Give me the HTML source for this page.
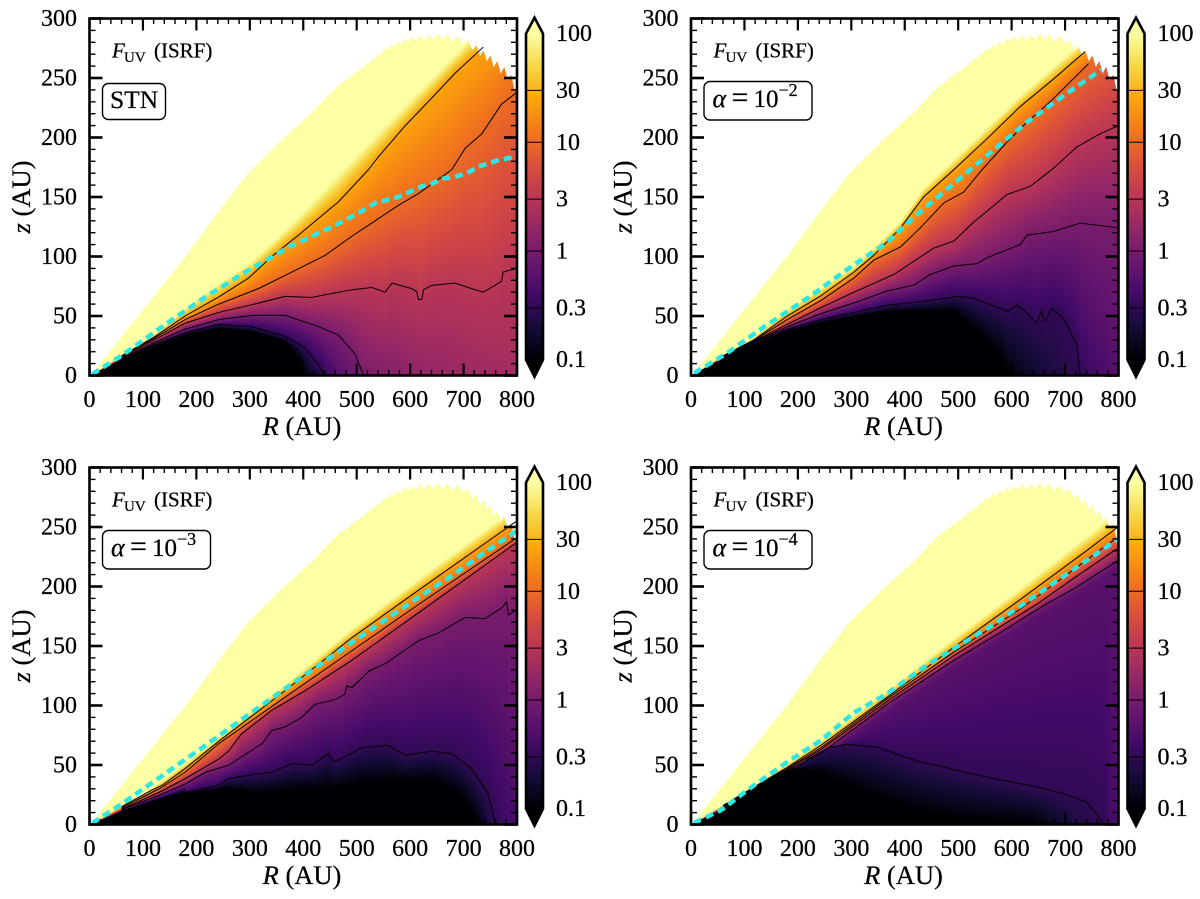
<!DOCTYPE html>
<html lang="en">
<head>
<meta charset="utf-8">
<title>FUV maps</title>
<style>
html,body{margin:0;padding:0;background:#fff}
#figure{position:relative;width:1200px;height:899px;overflow:hidden;background:#fff}
#figure canvas{position:absolute;display:block}
#overlay{position:absolute;left:0;top:0}
text{font-family:"Liberation Serif","DejaVu Serif",serif;fill:#000;stroke:#000;stroke-width:.25px}
</style>
</head>
<body>
<div id="figure">
<svg id="overlay" width="1200" height="899" viewBox="0 0 1200 899" xmlns="http://www.w3.org/2000/svg">
<defs><linearGradient id="cbarGradient" x1="0" y1="1" x2="0" y2="0"></linearGradient></defs>
</svg>
</div>
<script>
// ---------- axis tick data ----------
const xTickLabels = [0,100,200,300,400,500,600,700,800];
const yTickLabels = [0,50,100,150,200,250,300];
const colorbarTicks = [100,30,10,3,1,0.3,0.1];
const contourLevels = [30,10,3,1,0.3];

// ---------- outer surface of the model [R,z] ----------
const envelope = [[0,0],[55,31],[183,103],[240,138],[295,170],[357,198],[418,223],[460,243],[507,259],[553,276],[592,284.4],[615,286],[637,287],[659,288],[699,285],[721,279],[743,272],[768,263],[783,257],[800,246]];

// ---------- STN ----------
const stnC100 = [[120,35],[179,57],[242,78],[298,95],[341,112],[391,134],[466,170],[522,196],[591,228],[640,250],[684,270],[737,295]];
const stnC50 = [[120,33],[179,52],[242,69],[298,86],[341,103],[391,122],[466,152],[522,180],[591,214],[640,238],[684,259],[740,282]];
const stnC30 = [[60,16.5],[120,32],[179,50],[242,66],[298,82],[341,100],[391,118],[466,146],[522,173],[541,184],[591,210],[640,233],[684,254],[737,276]];
const stnC10 = [[60,16],[120,31],[179,47],[242,60],[316,73],[379,87],[441,101],[491,117],[528,128],[578,143],[616,153],[678,173],[703,191],[734,203],[771,228],[800,238]];
const stnC3 = [[60,15],[117,29],[179,44],[242,53],[304,59.5],[366,66.5],[416,65.6],[454,69],[491,72],[528,74],[553,70],[566,77.6],[603,73],[612,70.7],[616,63.7],[622,64],[625,72],[640,75.7],[684,77.6],[715,73],[737,70],[771,79],[774,87],[800,90]];
const stnC1 = [[60,14],[117,27],[179,39],[242,47],[304,50.5],[366,50.5],[429,41],[466,34],[497,18],[513,0]];
const stnC03 = [[60,13.5],[117,25.5],[179,36],[242,43],[304,41],[366,33],[404,23],[429,9],[440,0]];
const stnC01 = [[55,13],[117,25],[179,35],[242,40],[304,37],[366,29],[397,12],[404,0]];
const stnMid = [[0,0.05],[404,0.1],[440,0.3],[513,1],[620,1.5],[800,2.1]];
const stnCyan = [[5,1],[64,18],[158,48],[217,66],[292,87],[373,108],[416,117],[454,125],[497,135],[535,145],[578,150],[622,159],[640,161],[662,165.5],[684,167],[706,170],[728,175.6],[765,181],[800,184]];

// ---------- alpha = 1e-2 ----------
const a2C100 = [[118,33],[180,56],[305,92],[392,130],[435,158],[492,182],[616,236],[737,283],[800,306]];
const a2C30 = [[60,16.5],[118,30],[180,50],[243,67],[305,87],[342,101],[392,124],[435,150],[492,173],[554,199],[616,226],[678,249],[737,272]];
const a2C10 = [[60,16],[118,29.5],[180,47],[243,63],[305,82],[342,97],[392,108],[429,124],[473,145],[510,154],[541,171],[591,196],[629,213],[672,230],[744,262]];
const a2C3 = [[60,15.5],[118,29],[180,43],[243,57],[305,70],[380,85],[417,96],[454,107],[492,113],[529,129],[554,138],[591,152],[635,159],[678,174],[722,192],[765,203],[800,210]];
const a2C1 = [[60,15],[118,28.5],[180,41],[243,52],[305,61],[367,71],[417,76],[448,85],[492,92],[535,94],[554,99],[585,104.5],[616,110],[629,118],[678,121],[728,128],[765,126],[800,124]];
const a2C03 = [[60,14.5],[118,28],[180,39],[243,47],[305,53],[367,59],[429,62],[479,65],[498,66.5],[529,65],[560,59.5],[594,54],[610,59.5],[629,52.5],[647,44],[656,54],[663,45.5],[675,56.7],[697,48],[722,26],[728,0]];
const a2C01 = [[56,14],[118,27],[180,38],[243,45],[305,50],[367,54],[492,55],[541,34],[579,18],[594,0]];
const a2Mid = [[0,0.05],[594,0.1],[728,0.3],[800,0.55]];
const a2Cyan = [[6,2],[68,19],[137,41],[218,65],[292,89],[367,112],[417,133],[467,152],[504,166],[541,180],[591,199],[629,213],[663,224],[703,237],[768,257]];

// ---------- alpha = 1e-3 ----------
const a3C100 = [[117,31],[242,74],[366,118],[491,165],[616,207],[800,268]];
const a3C30 = [[60,15],[117,29],[136,33],[179,47],[242,70],[366,112.5],[491,157],[616,197],[793,253],[800,255]];
const a3C10 = [[60,14],[117,27],[136,31.5],[179,44],[242,68],[366,107],[491,146],[616,185],[793,239],[800,241]];
const a3C3 = [[60,13],[130,27],[179,38.5],[242,55],[261,62],[284,76],[341,96],[404,112.6],[491,138],[616,178],[790,234],[800,237]];
const a3C1 = [[60,12.5],[130,24.6],[179,34],[217,44],[260,49.7],[323,68],[341,79],[366,82],[397,90],[422,101],[460,105],[478,109.5],[481,116.5],[491,115],[523,129],[553,135],[616,154.5],[653,161],[703,174],[740,173],[771,182],[781,187],[784,176],[800,181]];
const a3C03 = [[60,12],[130,15],[179,27],[242,33],[260,38.5],[292,41],[341,44],[379,51],[416,50],[447,59.5],[457,52.5],[478,57],[510,64.5],[559,66.5],[591,58],[640,61.7],[678,59.5],[715,47],[746,26],[760,0]];
const a3C01 = [[61,12],[117,20],[179,27],[254,31],[304,27],[429,30],[553,37],[647,37],[697,23],[728,0]];
const a3Mid = [[0,0.05],[728,0.1],[760,0.3],[800,0.45]];
const a3Cyan = [[5,1],[61,17.5],[136,41],[217,66.5],[304,94.4],[385,120],[478,149],[537,167],[616,191],[678,209],[747,231],[800,247]];

// ---------- alpha = 1e-4 ----------
const a4C100 = [[118,33],[243,71],[367,113],[492,157],[616,199],[740,243],[800,265]];
const a4C30 = [[60,16],[118,31.5],[180,48],[243,66.5],[367,107],[492,149],[616,189],[740,230],[793,248],[800,250]];
const a4C10 = [[60,15.5],[118,31],[180,47],[243,64.5],[367,105.6],[492,145],[616,181],[793,239.7],[800,241]];
const a4C3 = [[60,15],[118,30.5],[180,46],[243,63],[367,103.6],[492,142],[585,168],[647,185],[709,204.7],[793,230.4],[800,232]];
const a4C1 = [[60,14.5],[118,30],[180,45],[243,60],[367,101],[492,138],[585,163],[660,184],[716,198],[793,220],[800,222]];
const a4C06 = [[60,14],[118,29.5],[180,43],[243,57],[367,96],[492,133],[585,158],[647,175],[716,193],[793,215],[800,217]];
const a4C03 = [[60,13],[118,29],[180,40],[218,55],[261,65],[292,67.3],[348,65],[392,58],[429,52.5],[460,49.7],[510,44],[585,37],[647,31.6],[697,26],[740,19],[759,9],[772,0]];
const a4C01 = [[56,12],[118,31],[193,48],[243,44],[305,31.6],[367,20],[429,12],[492,6.4],[616,2],[650,0]];
const a4Mid = [[0,0.05],[650,0.1],[772,0.3],[800,0.5]];
const a4Cyan = [[6,1.4],[56,12],[121,34],[180,52.5],[243,70.7],[305,94],[367,110],[445,135],[566,168],[716,214.5],[800,240]];

// ---------- inferno colour map anchors ----------
const inferno = [[0,0,4],[22,11,57],[66,10,104],[106,23,110],[147,38,103],[188,55,84],[221,81,58],[243,120,25],[252,165,10],[246,215,70],[252,255,164]];

const panels = [
  {dx:0,dy:0,kind:'stn',mid:stnMid,cyan:stnCyan,lines:[stnC30,stnC10,stnC3,stnC1,stnC03],
   shade:[[0.1,stnC01],[0.3,stnC03],[1,stnC1],[3,stnC3],[10,stnC10],[24,stnC30],[32,stnC50],[100,stnC100]]},
  {dx:601.5,dy:0,kind:'alpha',exp:'\u22122',mid:a2Mid,cyan:a2Cyan,lines:[a2C30,a2C10,a2C3,a2C1,a2C03],
   shade:[[0.1,a2C01],[0.3,a2C03],[1,a2C1],[3,a2C3],[10,a2C10],[24,a2C30],[100,a2C100]]},
  {dx:0,dy:449,kind:'alpha',exp:'\u22123',mid:a3Mid,cyan:a3Cyan,lines:[a3C30,a3C10,a3C3,a3C1,a3C03],
   shade:[[0.1,a3C01],[0.3,a3C03],[1,a3C1],[3,a3C3],[10,a3C10],[24,a3C30],[100,a3C100]]},
  {dx:601.5,dy:449,kind:'alpha',exp:'\u22124',mid:a4Mid,cyan:a4Cyan,lines:[a4C30,a4C10,a4C3,a4C1,a4C03],
   shade:[[0.1,a4C01],[0.3,a4C03],[0.6,a4C06],[1,a4C1],[3,a4C3],[10,a4C10],[24,a4C30],[100,a4C100]]}
];

// ---------- geometry ----------
const AX_LEFT = 89.5, AX_TOP = 18.5, AX_W = 427.5, AX_H = 357;
const R_MAX = 800, Z_MAX = 300;
const CB_LEFT = 526, CB_RIGHT = 543, CB_ONE = 251, CB_DECADE = 108.7;
const NS = 'http://www.w3.org/2000/svg';
const svg = document.getElementById('overlay');
const fig = document.getElementById('figure');

function xScale(R, p){ return p.dx + AX_LEFT + R / R_MAX * AX_W; }
function yScale(z, p){ return p.dy + AX_TOP + AX_H - z / Z_MAX * AX_H; }
function cbScale(v, p){ return p.dy + CB_ONE - Math.log10(v) * CB_DECADE; }

function colorAt(v){
  let t = (Math.log10(v) + 1) / 3;
  t = Math.max(0, Math.min(1, t));
  const f = t * (inferno.length - 1);
  const i = Math.min(inferno.length - 2, Math.floor(f));
  const u = f - i, a = inferno[i], b = inferno[i + 1];
  return [a[0] + (b[0] - a[0]) * u, a[1] + (b[1] - a[1]) * u, a[2] + (b[2] - a[2]) * u];
}

function interp(list, R){
  const n = list.length;
  if (R <= list[0][0]) return list[0][1] * R / list[0][0];
  if (R > list[n - 1][0]) {
    if (list[n - 1][1] === 0) return null;
    const a = list[n - 2], b = list[n - 1];
    return b[1] + (b[1] - a[1]) / (b[0] - a[0]) * (R - b[0]);
  }
  for (let i = 1; i < n; i++) {
    if (R <= list[i][0]) {
      const a = list[i - 1], b = list[i];
      return a[1] + (b[1] - a[1]) * (R - a[0]) / (b[0] - a[0]);
    }
  }
  return list[n - 1][1];
}

function shape(tag, attrs, parent){
  const el = document.createElementNS(NS, tag);
  for (const k in attrs) el.setAttribute(k, attrs[k]);
  (parent || svg).appendChild(el);
  return el;
}

function pointsOf(list, p){
  return list.map(function(d){ return xScale(d[0], p).toFixed(2) + ',' + yScale(d[1], p).toFixed(2); }).join(' ');
}

function toothPeriod(R){
  if (R < 500) return 9;
  if (R < 700) return 9 + (R - 500) / 200 * 11;
  if (R < 730) return 20 - (R - 700) / 30 * 7;
  return 13;
}
function toothDepth(R){
  if (R < 300) return 0.5;
  if (R < 500) return 0.5 + (R - 300) / 200 * 1.5;
  if (R < 700) return 2 + (R - 500) / 200 * 4;
  return 6 + (R - 700) / 100 * 3;
}

function drawHeat(p){
  const S = 2, W = Math.round(AX_W * S), H = Math.round(AX_H * S);
  const c = document.createElement('canvas');
  
  
  c.width = W; c.height = H;
  c.style.left = (p.dx + AX_LEFT) + 'px';
  c.style.top = (p.dy + AX_TOP) + 'px';
  c.style.width = AX_W + 'px';
  c.style.height = AX_H + 'px';
  fig.insertBefore(c, svg);
  const ctx = c.getContext('2d');
  const img = ctx.createImageData(W, H);
  const d = img.data;
  let phase = 0;
  const dR = R_MAX / W;
  for (let col = 0; col < W; col++) {
    const R = (col + 0.5) * dR;
    phase += dR / toothPeriod(R);
    const frac = phase % 1;
    const top = interp(envelope, R) - toothDepth(R) * Math.abs(2 * frac - 1);
    const knots = [[0, Math.log10(interp(p.mid, R))]];
    for (const s of p.shade) {
      const z = interp(s[1], R);
      if (z === null || z <= knots[knots.length - 1][0]) continue;
      knots.push([z, Math.log10(s[0])]);
    }
    let k = 0;
    for (let row = H - 1; row >= 0; row--) {
      const z = (H - row - 0.5) / H * Z_MAX;
      if (z > top) break;
      while (k < knots.length - 1 && z > knots[k + 1][0]) k++;
      let lv;
      if (k >= knots.length - 1) lv = 2.2;
      else {
        const a = knots[k], b = knots[k + 1];
        lv = a[1] + (b[1] - a[1]) * (z - a[0]) / (b[0] - a[0]);
      }
      const rgb = colorAt(Math.pow(10, lv));
      const o = (row * W + col) * 4;
      d[o] = rgb[0]; d[o + 1] = rgb[1]; d[o + 2] = rgb[2]; d[o + 3] = 255;
    }
  }
  ctx.putImageData(img, 0, 0);
}

function drawTicks(p){
  const xl = xScale(0, p), xr = xScale(R_MAX, p), yb = yScale(0, p), yt = yScale(Z_MAX, p);
  for (let R = 0; R <= R_MAX; R += 20) {
    const major = xTickLabels.indexOf(R) >= 0;
    const len = major ? 12 : 5.5, x = xScale(R, p);
    const a = shape('line', {x1:x, x2:x, y1:yb, y2:yb - len, stroke:'#000', 'stroke-width':major ? 2.2 : 1.4});
    
    
    const b = shape('line', {x1:x, x2:x, y1:yt, y2:yt + len, stroke:'#000', 'stroke-width':major ? 2.2 : 1.4});
    
    
  }
  for (let z = 0; z <= Z_MAX; z += 10) {
    const major = yTickLabels.indexOf(z) >= 0;
    const len = major ? 13 : 6, y = yScale(z, p);
    const a = shape('line', {x1:xl, x2:xl + len, y1:y, y2:y, stroke:'#000', 'stroke-width':major ? 2.6 : 1.4});
    
    
    const b = shape('line', {x1:xr, x2:xr - len, y1:y, y2:y, stroke:'#000', 'stroke-width':major ? 2.6 : 1.4});
    
    
  }
  const frame = shape('rect', {x:xl, y:yt, width:xr - xl, height:yb - yt, fill:'none', stroke:'#000', 'stroke-width':2.6});
  
  
  for (const v of xTickLabels) {
    const t = shape('text', {x:xScale(v, p), y:p.dy + 407, 'font-size':24, 'text-anchor':'middle'});
    t.textContent = v;
    
    
  }
  for (const v of yTickLabels) {
    const t = shape('text', {x:p.dx + 77, y:yScale(v, p) + 7.5, 'font-size':24, 'text-anchor':'end'});
    t.textContent = v;
    
    
  }
}

function drawAxisTitles(p){
  const xt = shape('text', {x:p.dx + 302, y:p.dy + 435, 'font-size':26.5, 'text-anchor':'middle'});
  
  
  const xi = shape('tspan', {'font-style':'italic'}, xt);
  xi.textContent = 'R';
  const xu = shape('tspan', {}, xt);
  xu.textContent = ' (AU)';
  const cx = p.dx + 30, cy = p.dy + 197;
  const yt = shape('text', {x:cx, y:cy, 'font-size':26.5, 'text-anchor':'middle', transform:'rotate(-90 ' + cx + ' ' + cy + ')'});
  
  
  const yi = shape('tspan', {'font-style':'italic'}, yt);
  yi.textContent = 'z';
  const yu = shape('tspan', {}, yt);
  yu.textContent = ' (AU)';
}

function drawAnnotations(p){
  const ft = shape('text', {x:p.dx + 112, y:p.dy + 57.7, 'font-size':21, 'font-style':'italic'});
  ft.textContent = 'F';
  
  
  const fs = shape('text', {x:p.dx + 124, y:p.dy + 62, 'font-size':15});
  fs.textContent = 'UV';
  
  
  const fu = shape('text', {x:p.dx + 154, y:p.dy + 57.7, 'font-size':21});
  fu.textContent = '(ISRF)';
  
  

  if (p.kind === 'stn') {
    const box = shape('rect', {x:102.5, y:p.dy + 83.5, width:63, height:36, rx:6, fill:'#fff', stroke:'#000', 'stroke-width':1.4});
    
    
    const t = shape('text', {x:110, y:p.dy + 108, 'font-size':25.5});
    t.textContent = 'STN';
    
    
  } else {
    const box = shape('rect', {x:p.dx + 102.5, y:p.dy + 81.5, width:108, height:38.5, rx:6, fill:'#fff', stroke:'#000', 'stroke-width':1.4});
    
    
    const a = shape('text', {x:p.dx + 111, y:p.dy + 107, 'font-size':26, 'font-style':'italic'});
    a.textContent = '\u03B1';
    
    
    const e = shape('text', {x:p.dx + 130, y:p.dy + 107, 'font-size':30});
    e.textContent = '=';
    
    
    const b = shape('text', {x:p.dx + 152, y:p.dy + 107, 'font-size':25});
    b.textContent = '10';
    
    
    const x = shape('text', {x:p.dx + 177, y:p.dy + 96, 'font-size':18});
    x.textContent = p.exp;
    
    
  }
}

function drawColorbar(p){
  const l = p.dx + CB_LEFT, r = p.dx + CB_RIGHT, m = (l + r) / 2;
  const top = cbScale(100, p), bot = cbScale(0.1, p);
  const outline = 'M' + l + ',' + top + ' L' + m + ',' + (top - 16) + ' L' + r + ',' + top + ' L' + r + ',' + bot + ' L' + m + ',' + (bot + 17) + ' L' + l + ',' + bot + ' Z';
  const fill = shape('path', {d:outline, fill:'url(#cbarGradient)'});
  
  
  for (const v of contourLevels) {
    const ln = shape('line', {x1:l, x2:r, y1:cbScale(v, p), y2:cbScale(v, p), stroke:'#000', 'stroke-width':1});
    
    
  }
  const o = shape('path', {d:outline, fill:'none', stroke:'#000', 'stroke-width':2.6, 'stroke-linejoin':'miter'});
  
  
  for (const v of colorbarTicks) {
    const t = shape('text', {x:p.dx + 556, y:cbScale(v, p) + 7.5, 'font-size':24});
    t.textContent = v;
    
    
  }
}

// colorbar gradient stops come from the colour map, in colorbar coordinates
(function(){
  const g = document.getElementById('cbarGradient');
  const extent = 16 + 3 * CB_DECADE + 17;
  function stop(off, c){
    const s = document.createElementNS(NS, 'stop');
    s.setAttribute('offset', off);
    s.setAttribute('stop-color', 'rgb(' + c[0] + ',' + c[1] + ',' + c[2] + ')');
    g.appendChild(s);
  }
  stop(0, inferno[0]);
  inferno.forEach(function(c, i){
    stop((17 + i / (inferno.length - 1) * 3 * CB_DECADE) / extent, c);
  });
  stop(1, inferno[inferno.length - 1]);
})();

panels.forEach(function(p){
  drawHeat(p);
  for (const list of p.lines) {
    const ln = shape('polyline', {points:pointsOf(list, p), fill:'none', stroke:'#000', 'stroke-width':1, 'stroke-linejoin':'round'});
    
    
  }
  const cy = shape('polyline', {points:pointsOf(p.cyan, p), fill:'none', stroke:'#2de6e6', 'stroke-width':4.5, 'stroke-dasharray':'8 5'});
  
  
  drawTicks(p);
  drawAxisTitles(p);
  drawAnnotations(p);
  drawColorbar(p);
});
</script>
</body>
</html>
